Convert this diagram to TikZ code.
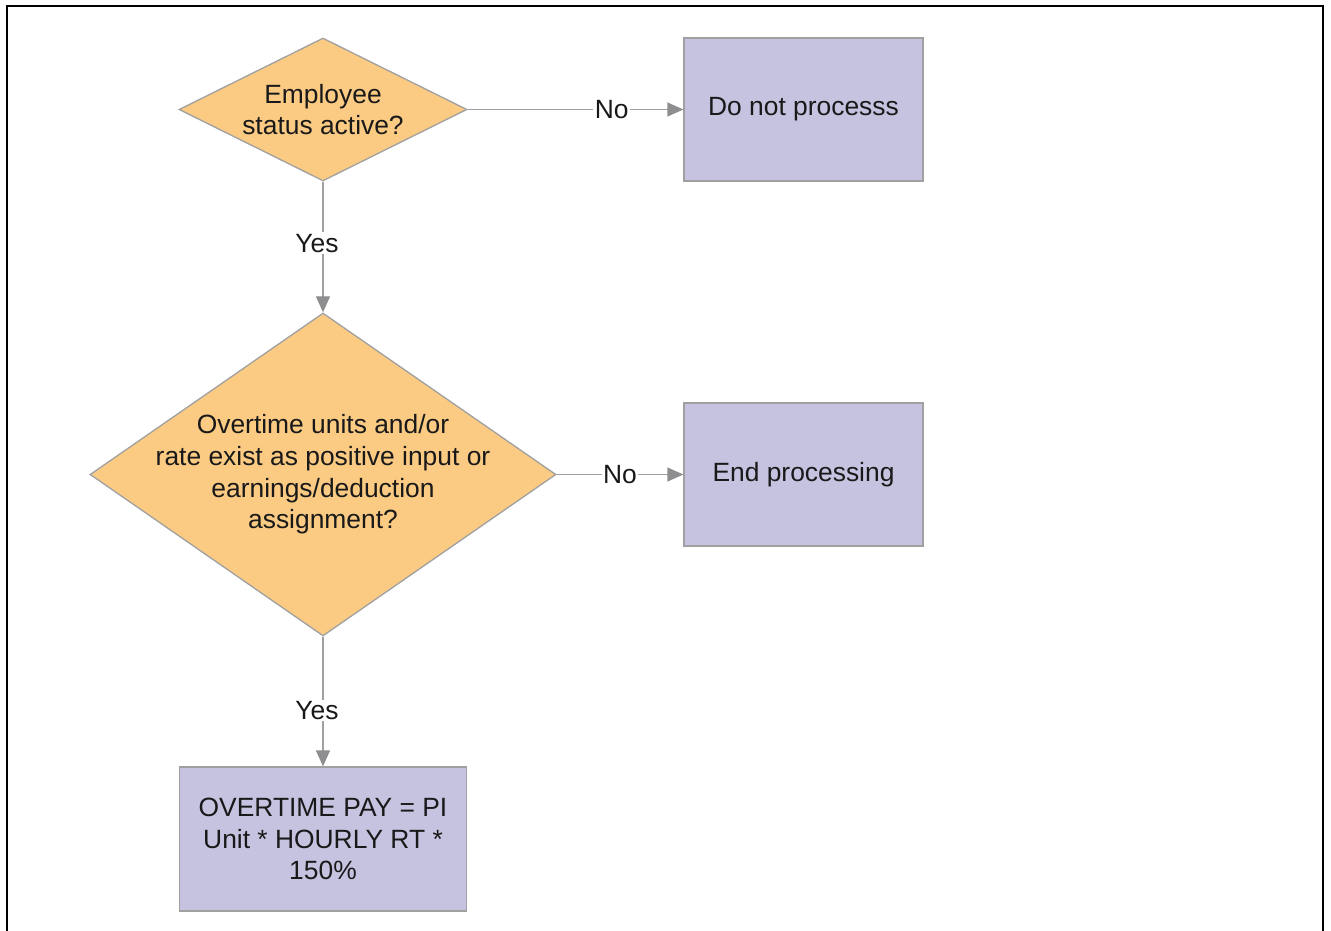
\documentclass[tikz,border=0pt]{standalone}
\usepackage{fontspec}
\setmainfont{Liberation Sans}
\usetikzlibrary{shapes.geometric,arrows.meta}
\definecolor{decfill}{HTML}{FBCB84}
\definecolor{procfill}{HTML}{C6C3E1}
\definecolor{edgegray}{HTML}{A0A0A0}
\definecolor{tipgray}{HTML}{8E8E90}
\begin{document}
\begin{tikzpicture}[x=1pt,y=1pt,
  every node/.style={font=\fontsize{26.4}{31.7}\selectfont, text=black!90},
  decision/.style={diamond, draw=edgegray, line width=1.3pt, fill=decfill,
    inner sep=0pt},
  caption/.style={label={[align=center, inner sep=0pt]center:#1}},
  process/.style={rectangle, draw=edgegray, line width=1.3pt, fill=procfill,
    minimum width=239pt, minimum height=143pt, inner sep=0pt, align=center},
  flow/.style={draw=edgegray, line width=1.3pt,
    -{Triangle[length=16pt,width=14pt,color=tipgray]}},
  answer/.style={fill=white, inner sep=1.5pt}
]
\useasboundingbox (0,0) rectangle (1331,930);
% open frame around the chart
\draw[line width=2pt] (6.5,-5) -- (6.5,923.5) -- (1323,923.5) -- (1323,-5);

\node[decision, minimum width=288pt, minimum height=143pt,
  caption={Employee\\status active?}] (active) at (323,820.5) {};
\node[process] (noproc) at (803.5,820.5) {Do not processs};

\node[decision, minimum width=466pt, minimum height=323pt,
  caption={Overtime units and/or\\rate exist as positive input or\\earnings/deduction\\assignment?}]
  (overtime) at (323,455.5) {};
\node[process] (endproc) at (803.5,455.5) {End processing};

\node[process, minimum width=287pt, minimum height=144pt] (pay) at (323,91)
  {OVERTIME PAY = PI\\Unit * HOURLY RT *\\150\%};

\draw[flow] (active.east) -- node[answer, pos=0.668] {No} (noproc.west);
\draw[flow] (active.south) -- node[answer, pos=0.47, xshift=-6pt] {Yes} (overtime.north);
\draw[flow] (overtime.east) -- node[answer, pos=0.5] {No} (endproc.west);
\draw[flow] (overtime.south) -- node[answer, pos=0.57, xshift=-6pt] {Yes} (pay.north);
\end{tikzpicture}
\end{document}
